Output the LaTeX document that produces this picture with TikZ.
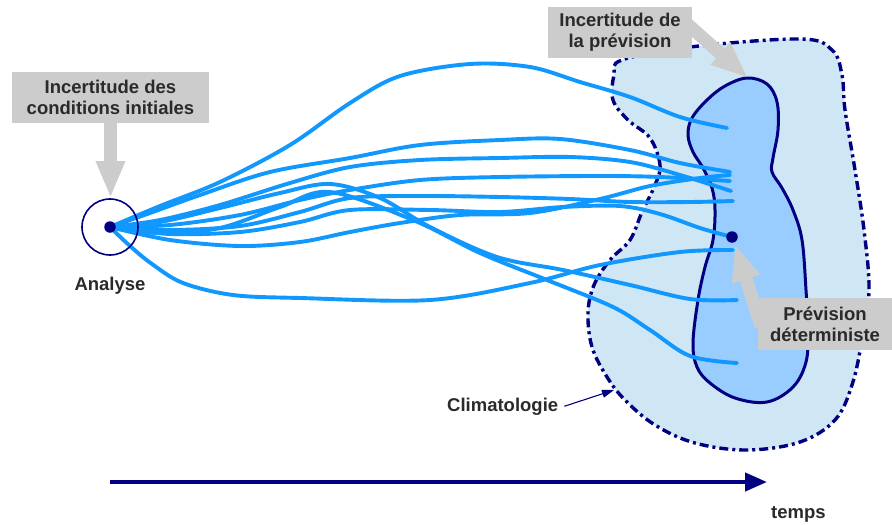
\documentclass[tikz,border=0pt]{standalone}
\usepackage{fontspec}
\setmainfont{Liberation Sans}
\usetikzlibrary{arrows.meta}
\definecolor{navy}{HTML}{000080}
\definecolor{spag}{HTML}{1098FF}
\definecolor{climfill}{HTML}{CFE6F5}
\definecolor{prevfill}{HTML}{99CCFF}
\definecolor{boxgray}{HTML}{CCCCCC}
\definecolor{txt}{HTML}{2A2A2A}
\begin{document}
\begin{tikzpicture}[x=1pt,y=-1pt,
  lbl/.style={font=\fontsize{18.5}{21}\selectfont\bfseries, text=txt, inner sep=0pt},
  graybox/.style={fill=boxgray, draw=none, inner sep=0pt, align=center, font=\fontsize{18.5}{21}\selectfont\bfseries, text=txt},
  grayarrow/.style={draw=boxgray, line width=13pt, -{Triangle[length=37pt,width=27pt]}},
  traj/.style={draw=spag, line width=3.9pt, line cap=round, line join=round},
  climborder/.style={draw=navy, line width=3.4pt, dash pattern=on 9pt off 4pt on 3pt off 4pt},
  prevborder/.style={draw=navy, line width=3pt},
  navydot/.style={circle, fill=navy, inner sep=0pt, minimum size=11.5pt}]
\useasboundingbox (0,0) rectangle (892,525);

% climatology region
\path[fill=climfill, climborder] plot[smooth cycle, tension=0.6] coordinates {
 (622,60) (690,47) (800,39) (832,50) (842,75) (845,110) (855,170) (864,230) (869,290)
 (862,340) (852,385) (835,420) (800,442) (747,450) (695,443) (655,425) (625,400)
 (607,377) (592,347) (588,313) (594,285) (610,260) (630,240) (642,212) (655,185)
 (660,165) (650,138) (628,120) (613,100) (614,75)};

% forecast uncertainty region
\path[fill=prevfill, prevborder] plot[smooth cycle, tension=0.6] coordinates {
 (747,78) (767,84) (777,102) (778,130) (773,158) (772,172) (782,188) (793,210)
 (802,240) (806,290) (808,330) (806,362) (793,387) (767,402) (735,398) (710,383)
 (697,367) (693,343) (698,300) (705,267) (713,240) (715,210) (712,188) (703,168)
 (693,152) (688,135) (692,118) (707,100) (725,86)};

% trajectories
\draw[traj] plot[smooth, tension=0.55] coordinates {(110,227) (160,206) (220,182) (290,145) (350,103) (400,76) (470,64) (530,67) (580,82) (630,97) (680,117) (727,128)};
\draw[traj] plot[smooth, tension=0.55] coordinates {(110,227) (150,213) (200,195) (270,172) (350,158) (420,145) (500,140) (560,139) (630,150) (680,163) (730,172)};
\draw[traj] plot[smooth, tension=0.55] coordinates {(110,227) (160,220) (220,205) (290,183) (350,167) (420,160) (500,158) (570,157) (630,162) (680,175) (731,191)};
\draw[traj] plot[smooth, tension=0.55] coordinates {(110,227) (170,225) (240,215) (300,200) (350,190) (420,180) (500,177) (600,176) (660,177) (730,181)};
\draw[traj] plot[smooth, tension=0.55] coordinates {(110,227) (170,230) (240,226) (300,212) (350,198) (420,196) (500,197) (570,199) (630,202) (690,202) (733,201)};
\draw[traj] plot[smooth, tension=0.55] coordinates {(110,227) (170,234) (240,232) (300,222) (350,210) (430,210) (500,212) (563,207) (620,206) (660,214) (700,228) (732,237)};
\draw[traj] plot[smooth, tension=0.55] coordinates {(110,227) (170,240) (240,246) (300,242) (350,232) (400,223) (460,215) (530,213) (600,199) (650,186) (700,178) (730,175)};
\draw[traj] plot[smooth, tension=0.55] coordinates {(110,227) (160,222) (220,208) (280,193) (330,184) (380,198) (430,227) (497,257) (563,270) (630,285) (690,299) (737,300)};
\draw[traj] plot[smooth, tension=0.55] coordinates {(110,227) (160,233) (220,228) (280,207) (330,192) (413,220) (480,253) (547,280) (613,307) (650,330) (690,356) (737,363)};
\draw[traj] plot[smooth, tension=0.55] coordinates {(110,227) (130,246) (152,264) (183,283) (233,295) (300,298) (430,300) (530,283) (600,265) (680,252) (733,250)};

% analysis circle and dots
\node[circle, draw=navy, line width=1.6pt, minimum size=56pt, inner sep=0pt] (ana) at (110,227) {};
\node[navydot] (anadot) at (110,227) {};
\node[navydot] (detdot) at (732,237) {};

% gray arrows
\coordinate (tipci) at (110.5,198);
\coordinate (startpr) at (685,22);
\coordinate (tippr) at (748,78);
\coordinate (startdet) at (761,326);
\coordinate (tipdet) at (735,244);
\node[graybox, minimum width=197pt, minimum height=51pt] (bci) at (110.5,97.5) {Incertitude des\\conditions initiales};
\draw[grayarrow] (bci.south) -- (tipci);
\draw[grayarrow] (startpr) -- (tippr);
\draw[grayarrow] (startdet) -- (tipdet);
\node[graybox, minimum width=144pt, minimum height=51pt] (bpr) at (620,32.5) {Incertitude de\\la prévision};
\node[graybox, minimum width=134pt, minimum height=52pt] (bdet) at (825,324) {Prévision\\déterministe};

% labels
\node[lbl, anchor=base] (analyse) at (110,290) {Analyse};
\node[lbl, anchor=base west] (clim) at (447,411) {Climatologie};
\coordinate (climtip) at (614,390);
\draw[navy, line width=1.1pt, -{Triangle[length=12pt,width=8pt]}] ([xshift=6pt]clim.east) -- (climtip);

% time axis
\coordinate (t0) at (110,482);
\coordinate (t1) at (767,482);
\draw[navy, line width=4.2pt, -{Triangle[length=22pt,width=18pt]}] (t0) -- (t1);
\node[lbl, anchor=base west] (temps) at (771,518) {temps};
\end{tikzpicture}
\end{document}
